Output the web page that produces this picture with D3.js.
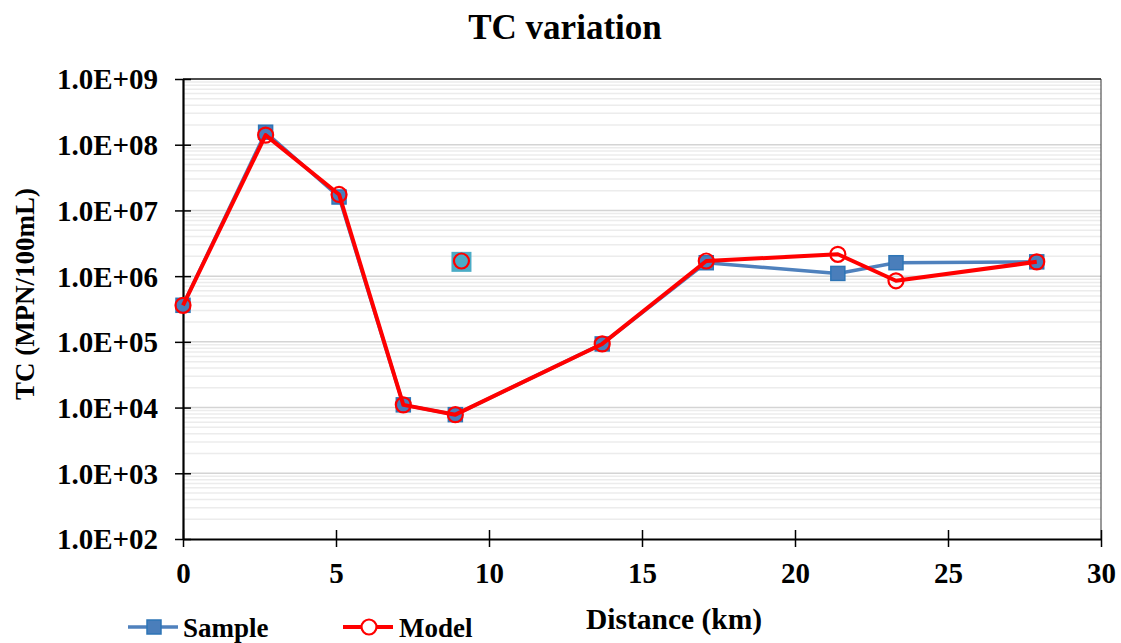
<!DOCTYPE html>
<html>
<head>
<meta charset="utf-8">
<script src="https://cdn.jsdelivr.net/npm/d3@7"></script>
<style>
  body { margin: 0; background: #fff; }
  svg text { font-family: "Liberation Serif", "Times New Roman", serif; font-weight: bold; fill: #000; }
</style>
</head>
<body>
<svg id="chart" width="1121" height="643"></svg>
<script>
// ---- data ----
const distance = [0, 2.7, 5.1, 7.2, 8.9, 13.7, 17.1, 21.4, 23.3, 27.9];
const sampleTC = [3.6e5, 1.55e8, 1.6e7, 1.1e4, 7.8e3, 9.3e4, 1.6e6, 1.1e6, 1.6e6, 1.65e6];
const modelTC  = [3.6e5, 1.4e8, 1.75e7, 1.1e4, 7.8e3, 9.3e4, 1.7e6, 2.15e6, 8.5e5, 1.65e6];
const extraDistance = [9.1];
const extraSampleTC = [1.65e6];
const extraModelTC  = [1.7e6];
const xTicks = [0, 5, 10, 15, 20, 25, 30];
const yTicks = [1e2, 1e3, 1e4, 1e5, 1e6, 1e7, 1e8, 1e9];
const yTickLabels = ["1.0E+02","1.0E+03","1.0E+04","1.0E+05","1.0E+06","1.0E+07","1.0E+08","1.0E+09"];

const svg = d3.select("#chart");
const L = 183, R = 1101, T = 79, B = 539;
const x = d3.scaleLinear().domain([0, 30]).range([L, R]);
const y = d3.scaleLog().domain([1e2, 1e9]).range([B, T]);

// gridlines
const minors = [];
for (let e = 2; e < 9; e++) for (let k = 2; k <= 9; k++) minors.push(k * Math.pow(10, e));
svg.append("g").selectAll("line").data(minors).join("line")
  .attr("x1", L).attr("x2", R)
  .attr("y1", d => y(d)).attr("y2", d => y(d))
  .attr("stroke", "#ececec").attr("stroke-width", 1.5);
svg.append("g").selectAll("line").data(yTicks.slice(1, -1)).join("line")
  .attr("x1", L).attr("x2", R)
  .attr("y1", d => y(d)).attr("y2", d => y(d))
  .attr("stroke", "#d4d4d4").attr("stroke-width", 1.5);

// borders
svg.append("line").attr("x1", L).attr("x2", R).attr("y1", T).attr("y2", T)
  .attr("stroke", "#111").attr("stroke-width", 1.5);
svg.append("line").attr("x1", R).attr("x2", R).attr("y1", T).attr("y2", B)
  .attr("stroke", "#333").attr("stroke-width", 1);

// axes
const yAxis = svg.append("g").attr("transform", `translate(${L},0)`)
  .call(d3.axisLeft(y).tickValues(yTicks).tickFormat((d, i) => yTickLabels[i]).tickSizeOuter(0));
const xAxis = svg.append("g").attr("transform", `translate(0,${B})`)
  .call(d3.axisBottom(x).tickValues(xTicks).tickFormat(d3.format("d")).tickSizeOuter(0));
[yAxis, xAxis].forEach(g => {
  g.select(".domain").attr("stroke", "#000").attr("stroke-width", 2.2);
  g.selectAll(".tick line").attr("stroke", "#000").attr("stroke-width", 1.5);
  g.selectAll(".tick text").attr("font-size", 29).attr("font-family", null);
});
yAxis.selectAll(".tick line").attr("x1", -8).attr("x2", 8);
yAxis.selectAll(".tick text").attr("x", -25).attr("dy", "0.34em");
xAxis.selectAll(".tick line").attr("y1", -9).attr("y2", 8);
xAxis.selectAll(".tick text").attr("y", 44).attr("dy", 0);

// series
const line = d3.line().x(d => x(d[0])).y(d => y(d[1]));
const sampleData = distance.map((d, i) => [d, sampleTC[i]]);
const modelData = distance.map((d, i) => [d, modelTC[i]]);
const sq = 14;

svg.append("path").datum(sampleData).attr("d", line)
  .attr("fill", "none").attr("stroke", "#4f81bd").attr("stroke-width", 3.5).attr("stroke-linejoin", "round");
svg.append("g").selectAll("rect").data(sampleData).join("rect")
  .attr("x", d => x(d[0]) - sq / 2).attr("y", d => y(d[1]) - sq / 2)
  .attr("width", sq).attr("height", sq)
  .attr("fill", "#4a7ebb").attr("stroke", "#2e75b6").attr("stroke-width", 1.5);
svg.append("g").selectAll("rect").data(extraDistance.map((d, i) => [d, extraSampleTC[i]])).join("rect")
  .attr("x", d => x(d[0]) - 10).attr("y", d => y(d[1]) - 10)
  .attr("width", 20).attr("height", 20)
  .attr("fill", "#4bacc6");

svg.append("path").datum(modelData).attr("d", line)
  .attr("fill", "none").attr("stroke", "#ff0000").attr("stroke-width", 4).attr("stroke-linejoin", "round");
svg.append("g").selectAll("circle").data(modelData.concat(extraDistance.map((d, i) => [d, extraModelTC[i]]))).join("circle")
  .attr("cx", d => x(d[0])).attr("cy", d => y(d[1])).attr("r", 7.5)
  .attr("fill", "none").attr("stroke", "#ff0000").attr("stroke-width", 2.2);

// titles
svg.append("text").attr("x", 565).attr("y", 39).attr("text-anchor", "middle")
  .attr("font-size", 35).text("TC variation");
svg.append("text").attr("x", 674).attr("y", 629).attr("text-anchor", "middle")
  .attr("font-size", 29.5).text("Distance (km)");
svg.append("text").attr("transform", "translate(34,294) rotate(-90)").attr("text-anchor", "middle")
  .attr("font-size", 27).text("TC (MPN/100mL)");

// legend
const ly = 627;
svg.append("line").attr("x1", 128).attr("x2", 178).attr("y1", ly).attr("y2", ly)
  .attr("stroke", "#4f81bd").attr("stroke-width", 3.5);
svg.append("rect").attr("x", 154 - sq / 2).attr("y", ly - sq / 2).attr("width", sq).attr("height", sq)
  .attr("fill", "#4a7ebb").attr("stroke", "#2e75b6").attr("stroke-width", 1.5);
svg.append("text").attr("x", 183).attr("y", 637).attr("font-size", 27).text("Sample");
svg.append("line").attr("x1", 343).attr("x2", 393).attr("y1", ly).attr("y2", ly)
  .attr("stroke", "#ff0000").attr("stroke-width", 4);
svg.append("circle").attr("cx", 369).attr("cy", ly).attr("r", 7.5)
  .attr("fill", "#fff").attr("stroke", "#ff0000").attr("stroke-width", 2.2);
svg.append("text").attr("x", 399).attr("y", 637).attr("font-size", 27).text("Model");
</script>
</body>
</html>
